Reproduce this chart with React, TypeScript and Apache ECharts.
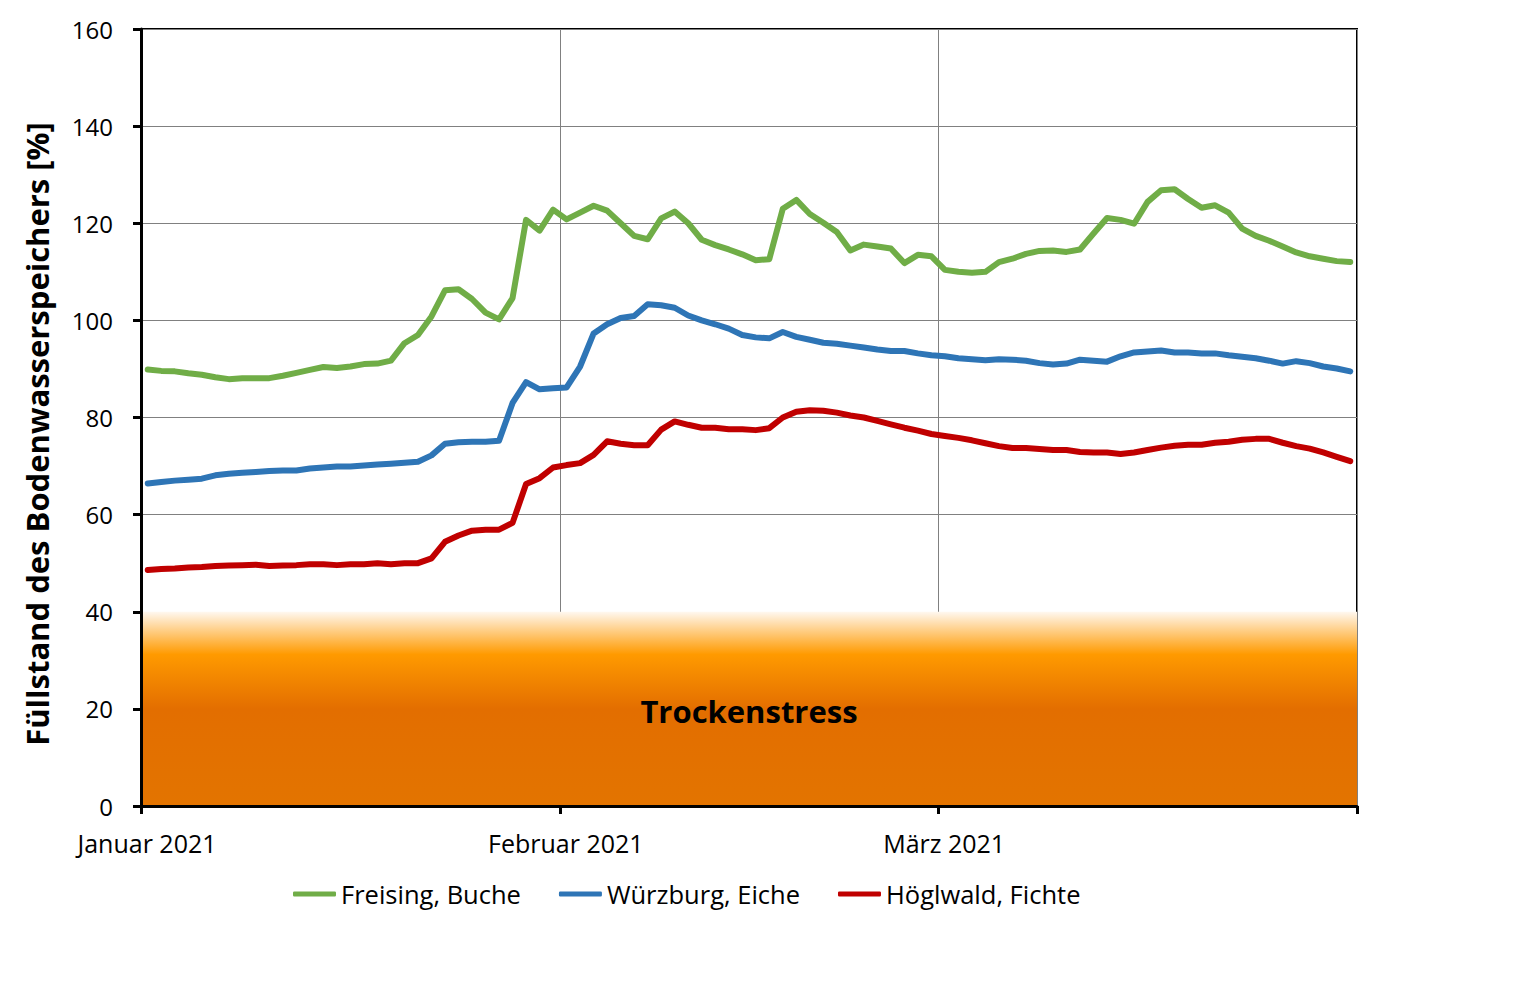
import React, { useEffect, useRef } from "react";
import * as echarts from "echarts";

// Day offsets (from 1 January 2021) at which the month ticks sit
const monthTicks = [0, 31, 59, 90];
const monthLabelTicks = [0, 31, 59];
const monthLabels = ["Januar 2021", "Februar 2021", "März 2021"];

const seriesNames = ["Freising, Buche", "Würzburg, Eiche", "Höglwald, Fichte"];
const seriesColors = ["#70AD47", "#2E75B6", "#C00000"];

// Daily values, 1 January – 31 March 2021
const freising = [
  89.9, 89.6, 89.5, 89.1, 88.8, 88.3, 87.9, 88.1, 88.1, 88.1,
  88.6, 89.2, 89.8, 90.4, 90.2, 90.5, 91.0, 91.1, 91.7, 95.3,
  97.0, 100.8, 106.2, 106.4, 104.4, 101.6, 100.2, 104.6, 120.7, 118.5,
  122.8, 120.8, 122.2, 123.6, 122.6, 120.0, 117.4, 116.7, 121.0, 122.4,
  120.0, 116.6, 115.5, 114.6, 113.6, 112.4, 112.6, 123.0, 124.8, 121.9,
  120.1, 118.2, 114.4, 115.6, 115.2, 114.8, 111.8, 113.5, 113.2, 110.4,
  110.0, 109.8, 110.0, 112.0, 112.7, 113.7, 114.3, 114.4, 114.1, 114.6,
  117.9, 121.1, 120.7, 119.9, 124.4, 126.8, 127.0, 125.0, 123.2, 123.7,
  122.2, 118.9, 117.4, 116.4, 115.2, 114.0, 113.2, 112.7, 112.2, 112.0,
];
const wuerzburg = [
  66.4, 66.7, 67.0, 67.2, 67.4, 68.1, 68.4, 68.6, 68.8, 69.0,
  69.1, 69.1, 69.5, 69.7, 69.9, 69.9, 70.1, 70.3, 70.5, 70.7,
  70.9, 72.2, 74.6, 74.9, 75.0, 75.0, 75.2, 83.0, 87.3, 85.8,
  86.0, 86.2, 90.5, 97.3, 99.2, 100.5, 100.9, 103.3, 103.1, 102.6,
  101.0, 100.0, 99.2, 98.3, 97.0, 96.5, 96.3, 97.6, 96.6, 96.0,
  95.4, 95.2, 94.8, 94.4, 94.0, 93.7, 93.7, 93.2, 92.8, 92.6,
  92.2, 92.0, 91.8, 92.0, 91.9, 91.7, 91.2, 90.9, 91.1, 91.9,
  91.7, 91.5, 92.6, 93.4, 93.6, 93.8, 93.4, 93.4, 93.2, 93.2,
  92.8, 92.5, 92.2, 91.7, 91.1, 91.6, 91.2, 90.5, 90.1, 89.5,
];
const hoeglwald = [
  48.6, 48.8, 48.9, 49.1, 49.2, 49.4, 49.5, 49.6, 49.7, 49.4,
  49.5, 49.6, 49.8, 49.8, 49.6, 49.8, 49.8, 50.0, 49.8, 50.0,
  50.0, 51.0, 54.4, 55.7, 56.7, 56.9, 56.9, 58.3, 66.3, 67.5,
  69.7, 70.2, 70.6, 72.3, 75.1, 74.6, 74.3, 74.3, 77.5, 79.2,
  78.5, 77.9, 77.9, 77.6, 77.6, 77.4, 77.8, 80.0, 81.2, 81.5,
  81.4, 81.0, 80.4, 80.0, 79.3, 78.6, 77.9, 77.3, 76.6, 76.2,
  75.8, 75.3, 74.7, 74.1, 73.7, 73.7, 73.5, 73.3, 73.3, 72.9,
  72.8, 72.8, 72.5, 72.8, 73.3, 73.8, 74.2, 74.4, 74.4, 74.8,
  75.0, 75.4, 75.6, 75.6, 74.8, 74.1, 73.6, 72.8, 71.9, 71.0,
];

const stressRange = [0, 40];
const stressLabel = "Trockenstress";
const yTitle = "Füllstand des Bodenwasserspeichers [%]";
const yMin = 0;
const yMax = 160;
const yStep = 20;

const FONT = '"Open Sans", "Noto Sans", sans-serif';

const toPoints = (vals: number[]) => vals.map((v, i) => [i + 0.5, v]);

export default function App() {
  const ref = useRef<HTMLDivElement>(null);

  useEffect(() => {
    if (!ref.current) return;
    const chart = echarts.init(ref.current, undefined, { renderer: "svg" });
    const lastDay = monthTicks[monthTicks.length - 1];

    const lineSeries = [freising, wuerzburg, hoeglwald].map((vals, k) => ({
      name: seriesNames[k],
      type: "line",
      xAxisIndex: 0,
      yAxisIndex: 0,
      data: toPoints(vals),
      symbol: "none",
      z: 3,
      lineStyle: { width: 6, color: seriesColors[k], cap: "round", join: "round" },
      itemStyle: { color: seriesColors[k] },
    }));

    const option: any = {
      animation: false,
      textStyle: { fontFamily: FONT },
      grid: {
        left: 141,
        top: 29,
        width: 1216,
        height: 777,
        show: true,
        borderColor: "#000",
        borderWidth: 2,
        backgroundColor: "transparent",
      },
      xAxis: [
        {
          type: "value",
          min: 0,
          max: lastDay,
          position: "bottom",
          z: 10,
          axisLine: { show: true, onZero: false, lineStyle: { color: "#000", width: 3 } },
          axisTick: {
            show: true,
            customValues: monthTicks,
            length: 8,
            lineStyle: { color: "#000", width: 3 },
          },
          axisLabel: {
            show: true,
            customValues: monthLabelTicks,
            formatter: (v: number) => {
              const idx = monthLabelTicks.indexOf(Math.round(v));
              return idx >= 0 ? monthLabels[idx] : "";
            },
            color: "#000",
            fontSize: 25,
            fontFamily: FONT,
            margin: 24,
            padding: [0, 0, 0, 12],
          },
          splitLine: { show: false },
        },
        {
          type: "value",
          min: 0,
          max: lastDay,
          position: "top",
          z: 0,
          axisLine: { show: false },
          axisTick: { show: false, customValues: monthTicks },
          axisLabel: { show: false, customValues: monthTicks },
          splitLine: { show: true, lineStyle: { color: "#808080", width: 1 } },
        },
      ],
      yAxis: [
        {
          type: "value",
          min: yMin,
          max: yMax,
          interval: yStep,
          position: "left",
          z: 10,
          axisLine: { show: true, lineStyle: { color: "#000", width: 3 } },
          axisTick: { show: true, length: 8, lineStyle: { color: "#000", width: 3 } },
          axisLabel: { color: "#000", fontSize: 24, fontFamily: FONT, margin: 28 },
          splitLine: { show: false },
        },
        {
          type: "value",
          min: yMin,
          max: yMax,
          interval: yStep,
          position: "right",
          z: 0,
          axisLine: { show: false },
          axisTick: { show: false },
          axisLabel: { show: false },
          splitLine: { show: true, lineStyle: { color: "#808080", width: 1 } },
        },
      ],
      legend: {
        data: seriesNames,
        left: 293,
        top: 881,
        padding: 0,
        icon: "roundRect",
        itemWidth: 43,
        itemHeight: 5,
        itemGap: 38,
        textStyle: { fontSize: 25.5, color: "#000", fontFamily: FONT },
      },
      graphic: [
        {
          type: "text",
          x: 37,
          y: 434,
          rotation: Math.PI / 2,
          style: {
            text: yTitle,
            fontSize: 31,
            fontWeight: "bold",
            fontFamily: FONT,
            fill: "#000",
            align: "center",
            verticalAlign: "middle",
          },
        },
      ],
      series: [
        {
          name: "band",
          type: "line",
          xAxisIndex: 0,
          yAxisIndex: 0,
          data: [],
          silent: true,
          z: 2,
          markArea: {
            silent: true,
            itemStyle: {
              color: new echarts.graphic.LinearGradient(0, 0, 0, 1, [
                { offset: 0, color: "#FFF8F0" },
                { offset: 0.05, color: "#FFE2B8" },
                { offset: 0.22, color: "#FF9A00" },
                { offset: 0.5, color: "#E36E00" },
                { offset: 1, color: "#E37400" },
              ]),
            },
            label: {
              show: true,
              position: "inside",
              formatter: stressLabel,
              fontSize: 31,
              fontWeight: "bold",
              color: "#000",
              fontFamily: FONT,
              offset: [0, 2],
            },
            data: [
              [
                { xAxis: 0, yAxis: stressRange[0] },
                { xAxis: lastDay, yAxis: stressRange[1] },
              ],
            ],
          },
        },
        ...lineSeries,
      ],
    };

    chart.setOption(option);
    return () => chart.dispose();
  }, []);

  return (
    <div
      ref={ref}
      style={{ position: "fixed", left: 0, top: 0, width: 1523, height: 987, background: "#fff" }}
    />
  );
}
